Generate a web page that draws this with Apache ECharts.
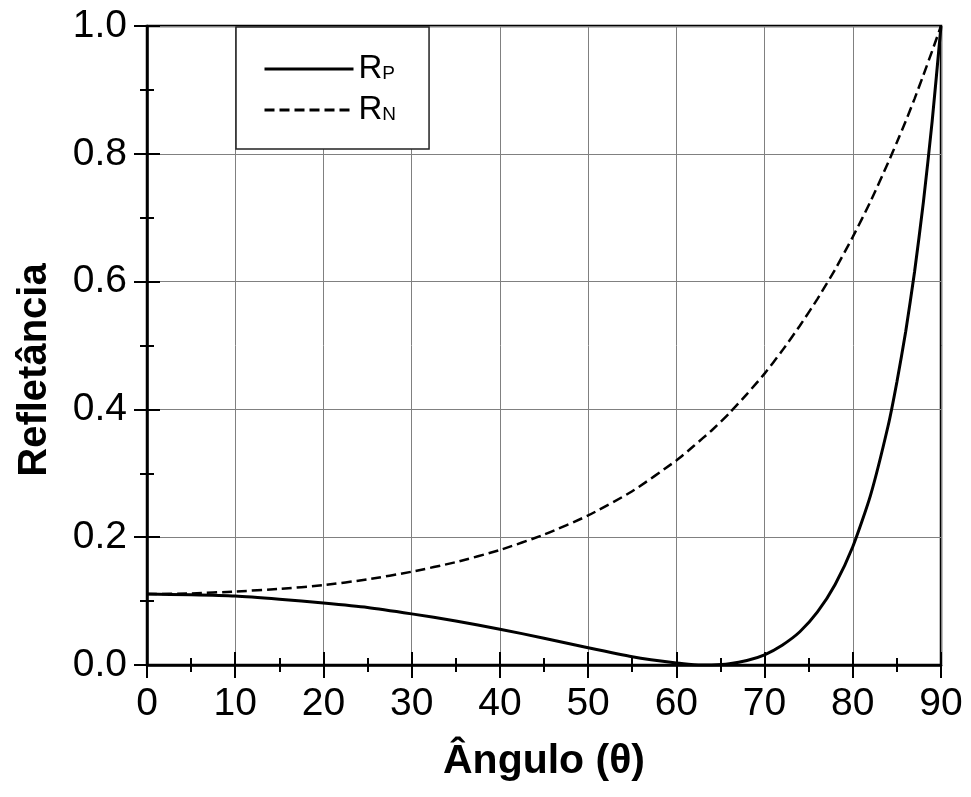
<!DOCTYPE html>
<html>
<head>
<meta charset="utf-8">
<script src="https://cdn.jsdelivr.net/npm/echarts@6/dist/echarts.min.js"></script>
<style>html,body{margin:0;padding:0;background:#fff}#c{width:971px;height:797px}</style>
</head>
<body>
<div id="c"></div>
<script>
var angles = [0,5,10,15,20,25,30,35,40,45,50,55,60,62,63,64,66,68,70,72,74,76,78,80,82,84,85,86,87,88,89,90];
var rp = [0.111,0.110,0.108,0.103,0.097,0.090,0.080,0.069,0.056,0.042,0.027,0.013,0.003,0.0005,0.0,0.0001,0.002,0.007,0.016,0.031,0.052,0.083,0.126,0.185,0.265,0.374,0.443,0.522,0.615,0.724,0.851,1.0];
var rn = [0.111,0.112,0.115,0.119,0.125,0.134,0.146,0.161,0.180,0.204,0.234,0.272,0.320,0.343,0.355,0.367,0.394,0.424,0.456,0.492,0.531,0.573,0.619,0.670,0.725,0.786,0.818,0.851,0.886,0.923,0.961,1.0];
var seriesNames = ['R{s|P}', 'R{s|N}'];
var xTitle = 'Ângulo (θ)';
var yTitle = 'Refletância';

var FONT = 'Arial, "Liberation Sans", sans-serif';
function pairs(xs, ys){ return xs.map(function(x,i){ return [x, ys[i]]; }); }

var chart = echarts.init(document.getElementById('c'));
var axisLine = {show:true, onZero:false, lineStyle:{color:'#000', width:2.5}};
chart.setOption({
  animation:false,
  grid:{left:147, top:26, width:794, height:639, show:true, borderColor:'#000', borderWidth:2.5, backgroundColor:'transparent'},
  legend:{
    left:236, top:27, orient:'vertical',
    itemWidth:89, itemHeight:34, itemGap:7,
    padding:[25,33,22,27],
    backgroundColor:'#fff', borderColor:'#222', borderWidth:1.5,
    itemStyle:{opacity:0},
    lineStyle:{width:3},
    data:seriesNames,
    textStyle:{fontFamily:FONT, fontSize:33, color:'#000', lineHeight:34,
      rich:{s:{fontFamily:FONT, fontSize:19, color:'#000', verticalAlign:'bottom', lineHeight:19, padding:[0,0,3,0]}}}
  },
  xAxis:[{
    type:'value', min:0, max:90, interval:10, position:'bottom',
    axisLine:axisLine,
    axisTick:{show:true, inside:false, length:13, lineStyle:{color:'#000', width:2}},
    minorTick:{show:true, splitNumber:2, length:7, lineStyle:{color:'#000', width:2}},
    axisLabel:{fontFamily:FONT, fontSize:39, color:'#000', margin:20},
    splitLine:{show:true, lineStyle:{color:'#808080', width:1}},
    name:xTitle, nameLocation:'middle', nameGap:76,
    nameTextStyle:{fontFamily:FONT, fontSize:41, fontWeight:'bold', color:'#000'}
  },{
    type:'value', min:0, max:90, interval:10, position:'bottom',
    axisLine:{show:false},
    axisTick:{show:true, inside:true, length:13, lineStyle:{color:'#000', width:2}},
    minorTick:{show:true, splitNumber:2, length:7, lineStyle:{color:'#000', width:2}},
    axisLabel:{show:false}, splitLine:{show:false}
  }],
  yAxis:[{
    type:'value', min:0, max:1, interval:0.2, position:'left',
    axisLine:axisLine,
    axisTick:{show:true, inside:false, length:13, lineStyle:{color:'#000', width:2}},
    minorTick:{show:true, splitNumber:2, length:7, lineStyle:{color:'#000', width:2}},
    axisLabel:{fontFamily:FONT, fontSize:39, color:'#000', margin:20, formatter:function(v){return v.toFixed(1);}},
    splitLine:{show:true, lineStyle:{color:'#808080', width:1}},
    name:yTitle, nameLocation:'middle', nameGap:92, nameRotate:90,
    nameTextStyle:{fontFamily:FONT, fontSize:40, fontWeight:'bold', color:'#000', padding:[0,49,0,0]}
  },{
    type:'value', min:0, max:1, interval:0.2, position:'left',
    axisLine:{show:false},
    axisTick:{show:true, inside:true, length:13, lineStyle:{color:'#000', width:2}},
    minorTick:{show:true, splitNumber:2, length:7, lineStyle:{color:'#000', width:2}},
    axisLabel:{show:false}, splitLine:{show:false}
  }],
  series:[{
    name:seriesNames[0], type:'line', xAxisIndex:0, yAxisIndex:0,
    data:pairs(angles, rp), symbol:'none', smooth:0.2, clip:true, z:5,
    lineStyle:{color:'#000', width:3, type:'solid'}, itemStyle:{color:'#000'}
  },{
    name:seriesNames[1], type:'line', xAxisIndex:0, yAxisIndex:0,
    data:pairs(angles, rn), symbol:'none', smooth:0.2, clip:true, z:5,
    lineStyle:{color:'#000', width:2.5, type:[10,5]}, itemStyle:{color:'#000'}
  }]
});
</script>
</body>
</html>
